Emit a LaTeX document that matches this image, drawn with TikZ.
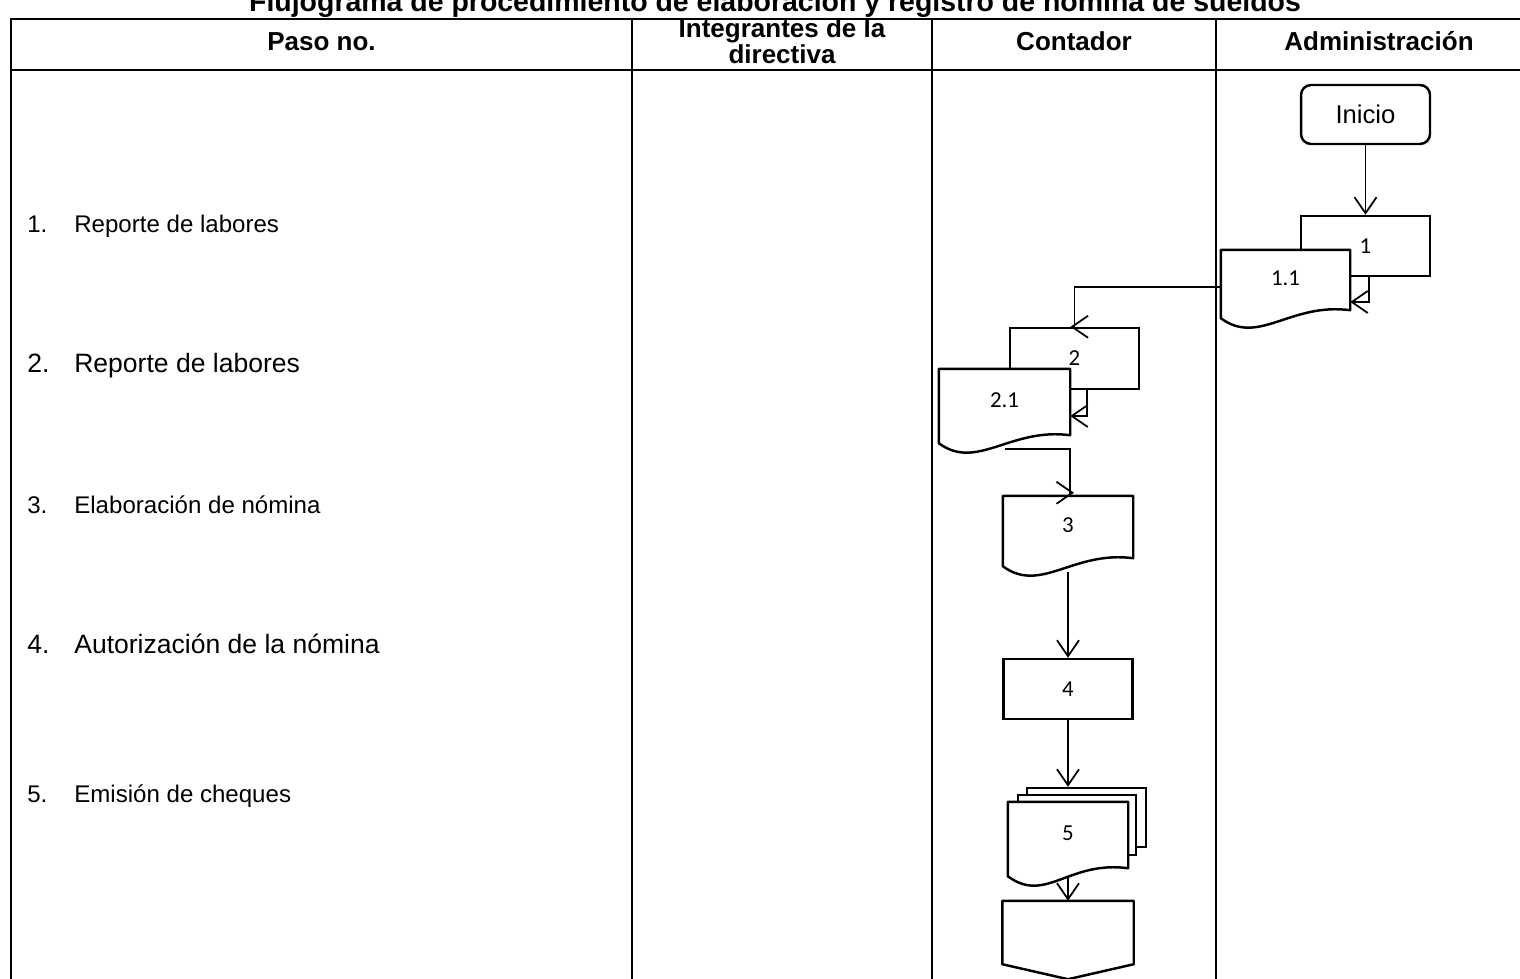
\documentclass[tikz,border=0pt]{standalone}
\usepackage{fontspec}
\setmainfont{Liberation Sans}
\newfontfamily\calibri{Carlito}
\usetikzlibrary{arrows.meta,calc}

\tikzset{
  tabla/.style={line width=1.5pt},
  caja/.style={draw, line width=1.4pt, fill=white, inner sep=0pt,
    minimum width=2.58cm, minimum height=1.2cm,
    font=\calibri\fontsize{13}{14}\selectfont},
  doc/.style={caja, draw=none},
  docline/.style={line width=1.4pt, line join=round},
  flujo/.style={line width=1pt, -{Straight Barb[length=0.32cm,width=0.44cm]}},
  encabezado/.style={font=\bfseries\fontsize{14.8}{14.8}\selectfont, align=center},
  pasochico/.style={anchor=base west, inner sep=0pt, font=\fontsize{13.7}{16}\selectfont},
  pasogrande/.style={anchor=base west, inner sep=0pt, font=\fontsize{15.1}{18}\selectfont},
}

\begin{document}
\begin{tikzpicture}[x=0.02cm, y=-0.02cm]
  \path[use as bounding box, fill=white] (0,0) rectangle (1520,979);

  % Title
  \node[anchor=base, font=\bfseries\fontsize{16.2}{20}\selectfont] (titulo) at (775,12)
    {Flujograma de procedimiento de elaboración y registro de nómina de sueldos};

  % Table
  \draw[tabla] (11,990) -- (11,19) -- (1545,19) -- (1545,990);
  \draw[tabla] (11,70) -- (1545,70);
  \foreach \x in {632,932,1216}
    \draw[tabla] (\x,19) -- (\x,990);

  % Headers
  \node[encabezado, anchor=base] (hpaso) at (321.5,51) {Paso no.};
  \node[encabezado] (hdir) at (782,41) {Integrantes de la\\directiva};
  \node[encabezado, anchor=base] (hcont) at (1074,51) {Contador};
  \node[encabezado, anchor=base] (hadm) at (1379,51) {Administración};

  % Steps
  \foreach \y/\n/\t/\s in {233/1/Reporte de labores/pasochico,
      373/2/Reporte de labores/pasogrande,
      513/3/Elaboración de nómina/pasochico,
      653/4/Autorización de la nómina/pasogrande,
      802/5/Emisión de cheques/pasochico}
    \node[\s] (paso\n) at (27,\y) {\makebox[0.94cm][l]{\n.}\t};

  % Boxes
  \node[caja, rounded corners=0.2cm, minimum height=1.18cm,
    font=\fontsize{14.6}{16}\selectfont] (inicio) at (1365.5,114.5) {Inicio};
  \node[caja] (box1) at (1365.5,246) {1};
  \node[doc, minimum width=2.54cm, minimum height=1.08cm] (doc11) at (1285.5,278) {1.1};
  \node[caja, minimum height=1.22cm] (box2) at (1074.5,358.5) {2};
  \node[doc] (doc21) at (1004.5,400) {2.1};
  \node[doc, minimum width=2.56cm, minimum height=1.12cm] (doc3) at (1068,525) {3};
  \node[caja] (box4) at (1068,689) {4};
  \node[caja, minimum width=2.38cm, minimum height=1.18cm] (doc5c) at (1086.5,817.5) {};
  \node[caja, minimum width=2.36cm] (doc5b) at (1077,825) {};
  \node[doc, minimum width=2.36cm] (doc5) at (1068,833) {5};
  \node[doc, minimum height=1.22cm] (fin) at (1068,932.5) {};

  % Document outlines
  \foreach \d in {doc11,doc21,doc3,doc5}
    \draw[docline] (\d.north west) -- ($(\d.south west)+(0,12)$)
      .. controls +(38,28) and +(-60,-8) .. ($(\d.south east)+(0,4)$)
      -- (\d.north east) -- cycle;
  \draw[docline] (fin.north west) -- (fin.north east) -- (fin.south east)
    -- ($(fin.south)+(0,15)$) -- (fin.south west) -- cycle;

  % Connectors
  \draw[flujo] (inicio) -- (box1);
  \draw[flujo] ($(box1.south)+(3.5,0)$) |- ($(doc11.east)+(0,24)$);
  \draw[flujo] ($(doc11.west)+(0,9)$) -| (box2.north) -- ++(-4,0);
  \draw[flujo] ($(box2.south)+(12.5,0)$) |- ($(doc21.east)+(0,16)$);
  \draw[flujo] ($(doc21.south)+(0,18)$) -| ($(doc3.north)+(2,-3)$) -- ++(4,0);
  \draw[flujo] ($(doc3.south)+(0,18)$) -- (box4);
  \draw[flujo] (box4.south) -- (box4.south |- doc5c.north);
  \draw[flujo] ($(doc5.south)+(0,12)$) -- (fin);
\end{tikzpicture}
\end{document}
